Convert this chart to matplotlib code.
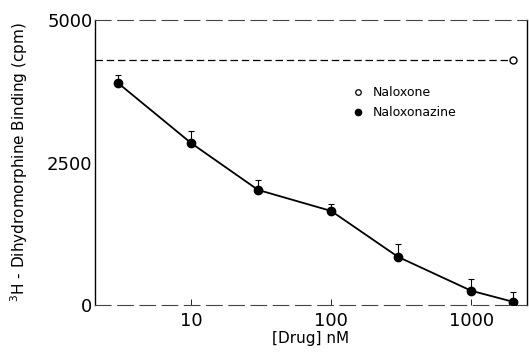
import numpy as np
import matplotlib
matplotlib.use("Agg")
import matplotlib.pyplot as plt

# Naloxonazine displacement
drug_nm = [3, 10, 30, 100, 300, 1000, 2000]
binding = [3895, 2840, 2020, 1650, 845, 250, 55]
err_up = [140, 210, 175, 125, 225, 205, 170]

# Naloxone single point / reference level
naloxone_x = [2000]
naloxone_y = [4300]

fig = plt.figure(figsize=(5.29, 3.53), dpi=100)
ax = fig.add_axes([0.18, 0.136, 0.816, 0.807])

# reference line for naloxone
ax.plot([2.06, naloxone_x[0]], [naloxone_y[0], naloxone_y[0]], color='black',
        lw=0.9, dashes=(6, 3))
ax.plot(naloxone_x, naloxone_y, 'o', mfc='white', mec='black', ms=5, mew=1)

# naloxonazine curve with upper error bars
ax.errorbar(drug_nm, binding, yerr=[np.zeros(len(err_up)), err_up], fmt='none',
            ecolor='black', elinewidth=0.8, capsize=2.5, capthick=0.8)
ax.plot(drug_nm, binding, '-', color='black', lw=1.3)
ax.plot(drug_nm, binding, 'o', color='black', ms=6)

ax.set_xscale('log')
ax.set_xlim(2.06, 2500)
ax.set_ylim(0, 5000)

ax.set_xticks([10, 100, 1000])
ax.set_xticklabels(['10', '100', '1000'])
ax.xaxis.set_minor_locator(matplotlib.ticker.NullLocator())
ax.set_yticks([0, 2500, 5000])
ax.set_yticklabels(['0', '2500', '5000'])
ax.tick_params(axis='x', direction='in', length=4, width=0.6, labelsize=13, pad=5)
ax.tick_params(axis='y', direction='in', length=0, labelsize=13, pad=2)

for s in ['top', 'bottom']:
    ax.spines[s].set_linestyle((0, (14, 6)))
    ax.spines[s].set_linewidth(0.8)
    ax.spines[s].set_color('#444444')
for s in ['left', 'right']:
    ax.spines[s].set_linewidth(1.0)

ax.set_xlabel('[Drug] nM', fontsize=11, labelpad=1)
ax.set_ylabel('$^{3}$H - Dihydromorphine Binding (cpm)', fontsize=11, labelpad=12)

# legend drawn by hand in axes coordinates
ax.plot([0.609], [0.747], 'o', mfc='white', mec='black', ms=4, mew=0.9,
        transform=ax.transAxes)
ax.plot([0.609], [0.677], 'o', color='black', ms=4.5, transform=ax.transAxes)
ax.text(0.642, 0.747, 'Naloxone', fontsize=9, va='center', transform=ax.transAxes)
ax.text(0.642, 0.677, 'Naloxonazine', fontsize=9, va='center', transform=ax.transAxes)

fig.savefig('out.png', dpi=100)
